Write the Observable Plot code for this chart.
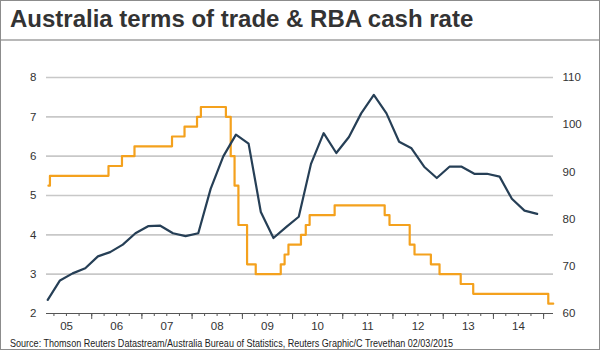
<!DOCTYPE html>
<html>
<head>
<meta charset="utf-8">
<script src="https://cdn.jsdelivr.net/npm/d3@7"></script>
<script src="https://cdn.jsdelivr.net/npm/@observablehq/plot@0.6"></script>
<style>
  html, body { margin: 0; padding: 0; background: #fff; }
  #wrap { position: relative; width: 600px; height: 350px; overflow: hidden; background: #fff;
          font-family: "Liberation Sans", Arial, sans-serif; color: #333; }
  #frame { position: absolute; left: 0; top: 0; width: 598px; height: 348px; border: 1px solid #8c8c8c; pointer-events: none; }
  #title { position: absolute; left: 10px; top: 7px; font-size: 24px; line-height: 24px; font-weight: bold; color: #333; white-space: nowrap; }
  #sep { position: absolute; left: 0; top: 39px; width: 600px; height: 2px; background: #b8b8b8; }
  .legline { position: absolute; height: 2.5px; }
  .legtext { position: absolute; font-size: 10.5px; line-height: 12px; color: #333; white-space: nowrap; }
  #chart { position: absolute; left: 0; top: 60px; }
  #caption { position: absolute; left: 10px; top: 337px; font-size: 10.5px; line-height: 12px; color: #222; white-space: nowrap;
             font-family: "Liberation Sans Narrow", "Arial Narrow", "Liberation Sans", sans-serif; transform-origin: 0 0; display: inline-block; }
</style>
</head>
<body>
<div id="wrap">
  <div id="title">Australia terms of trade &amp; RBA cash rate</div>
  <div id="sep"></div>
  <div class="legline" id="leg1line"></div>
  <div class="legtext" id="leg1text"></div>
  <div class="legline" id="leg2line"></div>
  <div class="legtext" id="leg2text"></div>
  <div id="chart"></div>
  <div id="caption">Source: Thomson Reuters Datastream/Australia Bureau of Statistics, Reuters Graphic/C Trevethan 02/03/2015</div>
  <div id="frame"></div>
</div>
<script>
// ---- Data ----
const seriesNames = ["RBA CASH RATE TARGET", "TERMS OF TRADE (RHS)"];
const seriesColors = ["#f4a11d", "#263f56"];

// RBA cash rate target: change dates and new rate (%)
const cashDates = ["2005-02-20","2005-03-03","2006-05-03","2006-08-09","2006-11-08","2007-08-08","2007-11-07",
  "2008-02-06","2008-03-05","2008-09-03","2008-10-08","2008-11-05","2008-12-03","2009-02-04","2009-04-08",
  "2009-10-07","2009-11-04","2009-12-02","2010-03-03","2010-04-07","2010-05-05","2010-11-03","2011-11-02",
  "2011-12-07","2012-05-02","2012-06-06","2012-10-03","2012-12-05","2013-05-08","2013-08-07","2015-02-04","2015-03-12"];
const cashRates = [5.25,5.5,5.75,6.0,6.25,6.5,6.75,
  7.0,7.25,7.0,6.0,5.25,4.25,3.25,3.0,
  3.25,3.5,3.75,4.0,4.25,4.5,4.75,4.5,
  4.25,3.75,3.5,3.25,3.0,2.75,2.5,2.25,2.25];

// Terms of trade index (quarterly, right-hand scale)
const totDates = ["2005-02-15","2005-05-15","2005-08-15","2005-11-15","2006-02-15","2006-05-15","2006-08-15","2006-11-15",
  "2007-02-15","2007-05-15","2007-08-15","2007-11-15","2008-02-15","2008-05-15","2008-08-15","2008-11-15",
  "2009-02-15","2009-05-15","2009-08-15","2009-11-15","2010-02-15","2010-05-15","2010-08-15","2010-11-15",
  "2011-02-15","2011-05-15","2011-08-15","2011-11-15","2012-02-15","2012-05-15","2012-08-15","2012-11-15",
  "2013-02-15","2013-05-15","2013-08-15","2013-11-15","2014-02-15","2014-05-15","2014-08-15","2014-11-15"];
const totValues = [62.9,67.0,68.5,69.6,72.1,73.0,74.6,77.0,
  78.5,78.6,77.0,76.4,77.0,86.4,93.3,97.9,
  96.0,81.5,76.0,78.3,80.5,91.7,98.2,94.0,
  97.4,102.4,106.3,102.4,96.4,95.0,91.1,88.7,
  91.1,91.1,89.6,89.6,89.0,84.3,81.8,81.1];

// Axis tick values / labels
const leftTicks = [2,3,4,5,6,7,8];
const rightTicks = [60,70,80,90,100,110];
const yearLabels = ["05","06","07","08","09","10","11","12","13","14"];

// ---- Build ----
const parse = s => new Date(s + "T00:00:00Z");
const cash = cashDates.map((d, i) => ({date: parse(d), rate: cashRates[i]}));
const tot = totDates.map((d, i) => ({date: parse(d), value: totValues[i]}));

// right scale (60..110) mapped onto left scale (2..8)
const rMin = rightTicks[0], rMax = rightTicks[rightTicks.length - 1];
const lMin = leftTicks[0], lMax = leftTicks[leftTicks.length - 1];
const toLeft = v => lMin + (v - rMin) * (lMax - lMin) / (rMax - rMin);
const toRight = v => rMin + (v - lMin) * (rMax - rMin) / (lMax - lMin);

const labelDates = yearLabels.map(l => new Date(Date.UTC(2000 + +l, 6, 2)));
const labelMap = new Map(labelDates.map((d, i) => [+d, yearLabels[i]]));
const yearTicks = yearLabels.slice(1).map(l => new Date(Date.UTC(2000 + +l, 0, 1))).concat([new Date(Date.UTC(2015,0,1))]);
const quarterTicks = d3.utcMonth.every(3).range(new Date(Date.UTC(2005,3,1)), new Date(Date.UTC(2015,1,1)));

const chart = Plot.plot({
  width: 600,
  height: 275,
  marginTop: 17,
  marginBottom: 22,
  marginLeft: 46,
  marginRight: 47,
  x: {type: "utc", domain: [parse("2005-02-06"), parse("2015-03-14")]},
  y: {domain: [lMin, lMax]},
  style: {fontFamily: "'Liberation Sans', Arial, sans-serif", fontSize: "11.5px", color: "#333", background: "white", overflow: "visible"},
  marks: [
    Plot.gridY(leftTicks.slice(1), {stroke: "#c8c8c8", strokeOpacity: 1, strokeWidth: 1.6}),
    Plot.axisY(leftTicks, {anchor: "left", tickSize: 0, tickPadding: 10, label: null}),
    Plot.axisY(rightTicks.map(toLeft), {anchor: "right", tickSize: 0, tickPadding: 9, label: null,
      tickFormat: d => String(Math.round(toRight(d)))}),
    Plot.axisX(quarterTicks, {tickSize: 3, tickFormat: () => "", label: null, stroke: "#555"}),
    Plot.axisX(yearTicks, {tickSize: 6, tickFormat: () => "", label: null, stroke: "#555"}),
    Plot.axisX(labelDates, {tickSize: 0, tickPadding: 8, label: null, tickFormat: d => labelMap.get(+d)}),
    Plot.ruleY([lMin], {stroke: "#555", strokeWidth: 1.2}),
    Plot.line(cash, {x: "date", y: "rate", curve: "step-after", stroke: seriesColors[0], strokeWidth: 2.2}),
    Plot.line(tot, {x: "date", y: d => toLeft(d.value), stroke: seriesColors[1], strokeWidth: 2.2, strokeLinejoin: "round"})
  ]
});
document.getElementById("chart").appendChild(chart);

// Legend
const l1 = document.getElementById("leg1line"), t1 = document.getElementById("leg1text");
const l2 = document.getElementById("leg2line"), t2 = document.getElementById("leg2text");
Object.assign(l1.style, {left: "47px", top: "66px", width: "22px", background: seriesColors[0]});
Object.assign(t1.style, {left: "77px", top: "61px"});
t1.textContent = seriesNames[0];
Object.assign(l2.style, {left: "297px", top: "66px", width: "21px", background: seriesColors[1]});
Object.assign(t2.style, {left: "328px", top: "61px"});
t2.textContent = seriesNames[1];

// Fit caption to the reference width
const cap = document.getElementById("caption");
const w = cap.getBoundingClientRect().width;
if (w > 0) cap.style.transform = `scaleX(${443 / w})`;
</script>
</body>
</html>
